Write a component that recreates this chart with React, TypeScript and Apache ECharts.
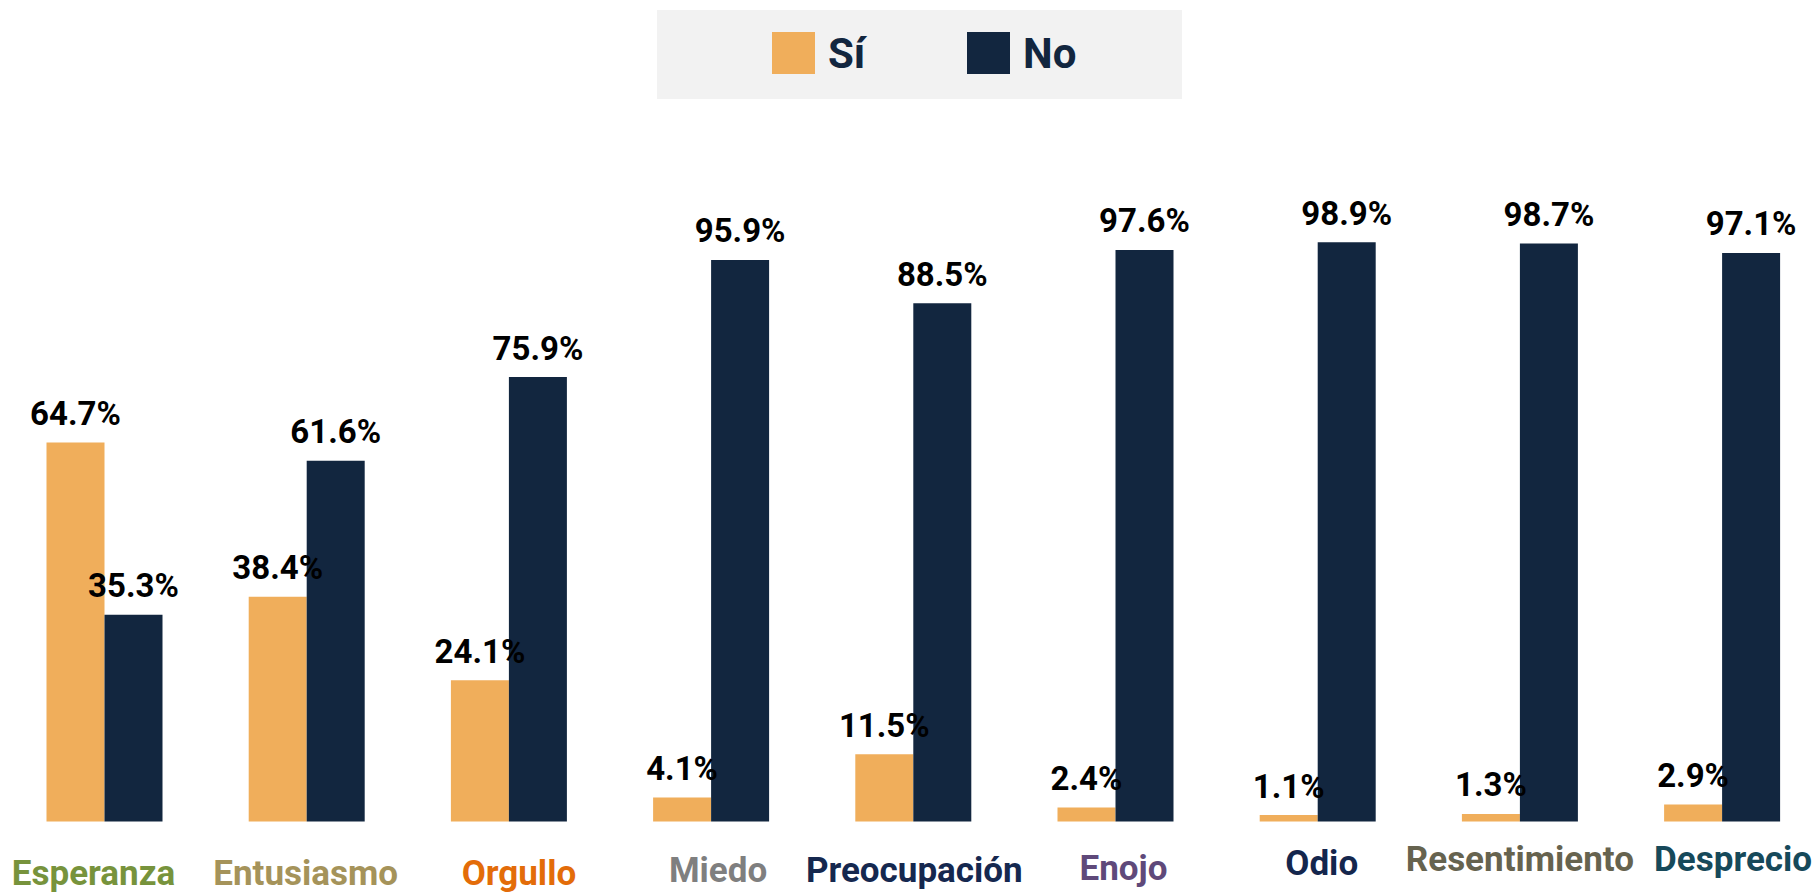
import React, { useEffect, useRef } from "react";
import * as echarts from "echarts";

const categories = [
  "Esperanza",
  "Entusiasmo",
  "Orgullo",
  "Miedo",
  "Preocupación",
  "Enojo",
  "Odio",
  "Resentimiento",
  "Desprecio",
];
const siValues = [64.7, 38.4, 24.1, 4.1, 11.5, 2.4, 1.1, 1.3, 2.9];
const noValues = [35.3, 61.6, 75.9, 95.9, 88.5, 97.6, 98.9, 98.7, 97.1];
const seriesNames = ["Sí", "No"];
const categoryColors = [
  "#77933C",
  "#A5935A",
  "#E36C09",
  "#7F7F7F",
  "#15284F",
  "#5F497A",
  "#14264D",
  "#66634F",
  "#16495A",
];
// per-label nudges [dx, dy] as seen in the reference
const labelNudges = [
  [-11, 14],
  [-1, 14],
  [10, 14],
  [7, 11],
  [1, 11],
  [8, 9],
  [4, 4],
  [0, 0],
  [11, 0],
];

const FONT = "Roboto, 'Liberation Sans', sans-serif";
const SI_COLOR = "#F0AE5B";
const NO_COLOR = "#12263F";

export default function App() {
  const ref = useRef<HTMLDivElement>(null);

  useEffect(() => {
    if (!ref.current) return;
    const chart = echarts.init(ref.current, undefined, { renderer: "svg" });

    const rich: Record<string, any> = {};
    categories.forEach((_, i) => {
      const [dx, dy] = labelNudges[i];
      rich["c" + i] = {
        color: categoryColors[i],
        fontFamily: FONT,
        fontWeight: "bold",
        fontSize: 35,
        lineHeight: 38 + 2 * dy,
        padding: [0, dx < 0 ? -2 * dx : 0, 0, dx > 0 ? 2 * dx : 0],
      };
    });

    const dataLabel = {
      show: true,
      position: "top" as const,
      distance: 12,
      color: "#000000",
      fontFamily: FONT,
      fontWeight: "bold" as const,
      fontSize: 33,
      lineHeight: 34,
      formatter: (p: any) => Number(p.value).toFixed(1) + "%",
    };

    const legendCommon = {
      top: 32,
      padding: 0,
      itemWidth: 43,
      itemHeight: 42,
      icon: "rect",
      selectedMode: false,
      textStyle: {
        color: NO_COLOR,
        fontFamily: FONT,
        fontWeight: "bold" as const,
        fontSize: 42,
        lineHeight: 42,
        padding: [0, 0, 0, 8],
      },
    };

    chart.setOption({
      animation: false,
      backgroundColor: "#FFFFFF",
      graphic: [
        {
          type: "rect",
          z: -10,
          shape: { x: 657, y: 10, width: 525, height: 89 },
          style: { fill: "#F2F2F2" },
        },
      ],
      legend: [
        { ...legendCommon, left: 772, data: [seriesNames[0]] },
        { ...legendCommon, left: 967, data: [seriesNames[1]] },
      ],
      grid: {
        left: 3.4,
        right: -6.2,
        top: 235.9,
        bottom: 72.5,
        containLabel: false,
        outerBoundsMode: "none",
      },
      xAxis: {
        type: "category",
        data: categories,
        axisLine: { show: false },
        axisTick: { show: false },
        axisLabel: {
          interval: 0,
          margin: 19,
          hideOverlap: false,
          formatter: (v: string) => {
            const i = categories.indexOf(v);
            return "{c" + i + "|" + v + "}";
          },
          rich,
        },
      },
      yAxis: {
        type: "value",
        min: 0,
        max: 100,
        show: false,
        splitLine: { show: false },
      },
      series: [
        {
          name: seriesNames[0],
          type: "bar",
          data: siValues,
          barWidth: 58,
          barGap: "0%",
          itemStyle: { color: SI_COLOR },
          label: dataLabel,
        },
        {
          name: seriesNames[1],
          type: "bar",
          data: noValues,
          barWidth: 58,
          barGap: "0%",
          itemStyle: { color: NO_COLOR },
          label: dataLabel,
        },
      ],
    });

    return () => chart.dispose();
  }, []);

  return (
    <div
      ref={ref}
      style={{ position: "fixed", left: 0, top: 0, width: 1817, height: 894 }}
    />
  );
}
